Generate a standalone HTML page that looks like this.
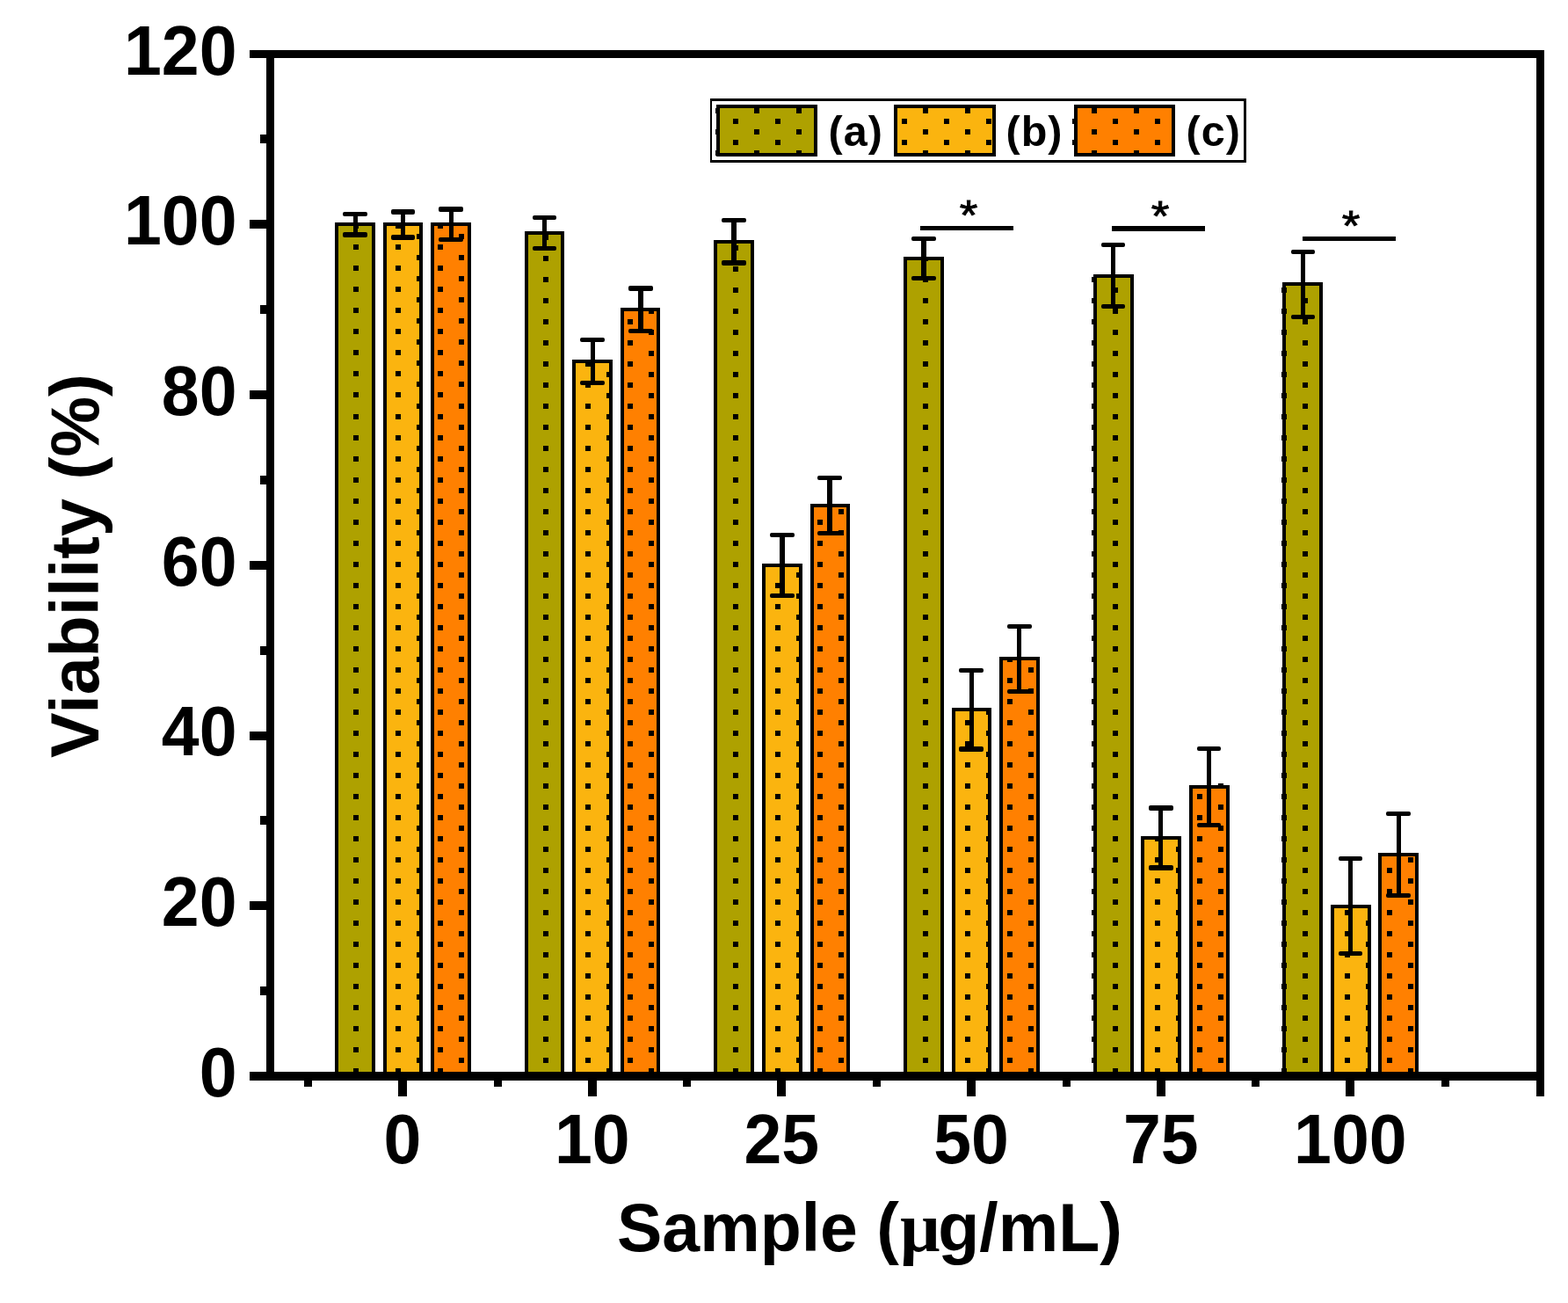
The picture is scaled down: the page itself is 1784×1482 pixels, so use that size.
<!DOCTYPE html>
<html lang="en"><head><meta charset="utf-8"><title>Viability (%) vs Sample (µg/mL)</title>
<style>html,body{margin:0;padding:0;background:#fff}body{width:1784px;height:1482px;overflow:hidden}svg{display:block}text{font-family:"Liberation Sans",sans-serif;font-weight:bold;fill:#000}.r{font-weight:normal}</style></head><body>
<svg width="1784" height="1482" viewBox="0 0 1784 1482">
<rect width="1784" height="1482" fill="#fff"/>
<g shape-rendering="crispEdges">
<rect x="381" y="253" width="46" height="968" fill="#000"/>
<rect x="385" y="257" width="38" height="964" fill="#aea100"/>
<rect x="436" y="253" width="45" height="968" fill="#000"/>
<rect x="440" y="257" width="37" height="964" fill="#fbb40f"/>
<rect x="490" y="253" width="46" height="968" fill="#000"/>
<rect x="494" y="257" width="38" height="964" fill="#ff8000"/>
<rect x="597" y="263" width="45" height="958" fill="#000"/>
<rect x="601" y="267" width="37" height="954" fill="#aea100"/>
<rect x="651" y="409" width="46" height="812" fill="#000"/>
<rect x="655" y="413" width="38" height="808" fill="#fbb40f"/>
<rect x="706" y="350" width="45" height="871" fill="#000"/>
<rect x="710" y="354" width="37" height="867" fill="#ff8000"/>
<rect x="812" y="273" width="46" height="948" fill="#000"/>
<rect x="816" y="277" width="38" height="944" fill="#aea100"/>
<rect x="867" y="641" width="46" height="580" fill="#000"/>
<rect x="871" y="645" width="38" height="576" fill="#fbb40f"/>
<rect x="922" y="573" width="45" height="648" fill="#000"/>
<rect x="926" y="577" width="37" height="644" fill="#ff8000"/>
<rect x="1028" y="292" width="46" height="929" fill="#000"/>
<rect x="1032" y="296" width="38" height="925" fill="#aea100"/>
<rect x="1083" y="805" width="45" height="416" fill="#000"/>
<rect x="1087" y="809" width="37" height="412" fill="#fbb40f"/>
<rect x="1137" y="747" width="46" height="474" fill="#000"/>
<rect x="1141" y="751" width="38" height="470" fill="#ff8000"/>
<rect x="1244" y="312" width="46" height="909" fill="#000"/>
<rect x="1248" y="316" width="38" height="905" fill="#aea100"/>
<rect x="1298" y="951" width="46" height="270" fill="#000"/>
<rect x="1302" y="955" width="38" height="266" fill="#fbb40f"/>
<rect x="1353" y="893" width="46" height="328" fill="#000"/>
<rect x="1357" y="897" width="38" height="324" fill="#ff8000"/>
<rect x="1459" y="321" width="46" height="900" fill="#000"/>
<rect x="1463" y="325" width="38" height="896" fill="#aea100"/>
<rect x="1514" y="1029" width="46" height="192" fill="#000"/>
<rect x="1518" y="1033" width="38" height="188" fill="#fbb40f"/>
<rect x="1568" y="970" width="46" height="251" fill="#000"/>
<rect x="1572" y="974" width="38" height="247" fill="#ff8000"/>
<path fill="#000" d="M402 254h6v6h-6zM402 278h6v6h-6zM402 302h6v6h-6zM402 326h6v6h-6zM402 350h6v6h-6zM402 374h6v6h-6zM402 398h6v6h-6zM402 422h6v6h-6zM402 446h6v6h-6zM402 471h6v6h-6zM402 495h6v6h-6zM402 519h6v6h-6zM402 543h6v6h-6zM402 567h6v6h-6zM402 591h6v6h-6zM402 615h6v6h-6zM402 639h6v6h-6zM402 663h6v6h-6zM402 687h6v6h-6zM402 711h6v6h-6zM402 735h6v6h-6zM402 759h6v6h-6zM402 783h6v6h-6zM402 807h6v6h-6zM402 831h6v6h-6zM402 855h6v6h-6zM402 879h6v6h-6zM402 903h6v6h-6zM402 927h6v6h-6zM402 951h6v6h-6zM402 975h6v6h-6zM402 999h6v6h-6zM402 1023h6v6h-6zM402 1047h6v6h-6zM402 1071h6v6h-6zM402 1095h6v6h-6zM402 1119h6v6h-6zM402 1143h6v6h-6zM402 1167h6v6h-6zM402 1191h6v6h-6zM402 1215h6v4h-6zM381 266h3v6h-3zM381 290h3v6h-3zM381 314h3v6h-3zM381 338h3v6h-3zM381 362h3v6h-3zM381 386h3v6h-3zM381 410h3v6h-3zM381 434h3v6h-3zM381 459h3v6h-3zM381 483h3v6h-3zM381 507h3v6h-3zM381 531h3v6h-3zM381 555h3v6h-3zM381 579h3v6h-3zM381 603h3v6h-3zM381 627h3v6h-3zM381 651h3v6h-3zM381 675h3v6h-3zM381 699h3v6h-3zM381 723h3v6h-3zM381 747h3v6h-3zM381 771h3v6h-3zM381 795h3v6h-3zM381 819h3v6h-3zM381 843h3v6h-3zM381 867h3v6h-3zM381 891h3v6h-3zM381 915h3v6h-3zM381 939h3v6h-3zM381 963h3v6h-3zM381 987h3v6h-3zM381 1011h3v6h-3zM381 1035h3v6h-3zM381 1059h3v6h-3zM381 1083h3v6h-3zM381 1107h3v6h-3zM381 1131h3v6h-3zM381 1155h3v6h-3zM381 1179h3v6h-3zM381 1203h3v6h-3zM426 266h1v6h-1zM426 290h1v6h-1zM426 314h1v6h-1zM426 338h1v6h-1zM426 362h1v6h-1zM426 386h1v6h-1zM426 410h1v6h-1zM426 434h1v6h-1zM426 459h1v6h-1zM426 483h1v6h-1zM426 507h1v6h-1zM426 531h1v6h-1zM426 555h1v6h-1zM426 579h1v6h-1zM426 603h1v6h-1zM426 627h1v6h-1zM426 651h1v6h-1zM426 675h1v6h-1zM426 699h1v6h-1zM426 723h1v6h-1zM426 747h1v6h-1zM426 771h1v6h-1zM426 795h1v6h-1zM426 819h1v6h-1zM426 843h1v6h-1zM426 867h1v6h-1zM426 891h1v6h-1zM426 915h1v6h-1zM426 939h1v6h-1zM426 963h1v6h-1zM426 987h1v6h-1zM426 1011h1v6h-1zM426 1035h1v6h-1zM426 1059h1v6h-1zM426 1083h1v6h-1zM426 1107h1v6h-1zM426 1131h1v6h-1zM426 1155h1v6h-1zM426 1179h1v6h-1zM426 1203h1v6h-1zM450 254h6v6h-6zM450 278h6v6h-6zM450 302h6v6h-6zM450 326h6v6h-6zM450 350h6v6h-6zM450 374h6v6h-6zM450 398h6v6h-6zM450 422h6v6h-6zM450 446h6v6h-6zM450 471h6v6h-6zM450 495h6v6h-6zM450 519h6v6h-6zM450 543h6v6h-6zM450 567h6v6h-6zM450 591h6v6h-6zM450 615h6v6h-6zM450 639h6v6h-6zM450 663h6v6h-6zM450 687h6v6h-6zM450 711h6v6h-6zM450 735h6v6h-6zM450 759h6v6h-6zM450 783h6v6h-6zM450 807h6v6h-6zM450 831h6v6h-6zM450 855h6v6h-6zM450 879h6v6h-6zM450 903h6v6h-6zM450 927h6v6h-6zM450 951h6v6h-6zM450 975h6v6h-6zM450 999h6v6h-6zM450 1023h6v6h-6zM450 1047h6v6h-6zM450 1071h6v6h-6zM450 1095h6v6h-6zM450 1119h6v6h-6zM450 1143h6v6h-6zM450 1167h6v6h-6zM450 1191h6v6h-6zM450 1215h6v4h-6zM474 266h6v6h-6zM474 290h6v6h-6zM474 314h6v6h-6zM474 338h6v6h-6zM474 362h6v6h-6zM474 386h6v6h-6zM474 410h6v6h-6zM474 434h6v6h-6zM474 459h6v6h-6zM474 483h6v6h-6zM474 507h6v6h-6zM474 531h6v6h-6zM474 555h6v6h-6zM474 579h6v6h-6zM474 603h6v6h-6zM474 627h6v6h-6zM474 651h6v6h-6zM474 675h6v6h-6zM474 699h6v6h-6zM474 723h6v6h-6zM474 747h6v6h-6zM474 771h6v6h-6zM474 795h6v6h-6zM474 819h6v6h-6zM474 843h6v6h-6zM474 867h6v6h-6zM474 891h6v6h-6zM474 915h6v6h-6zM474 939h6v6h-6zM474 963h6v6h-6zM474 987h6v6h-6zM474 1011h6v6h-6zM474 1035h6v6h-6zM474 1059h6v6h-6zM474 1083h6v6h-6zM474 1107h6v6h-6zM474 1131h6v6h-6zM474 1155h6v6h-6zM474 1179h6v6h-6zM474 1203h6v6h-6zM498 254h6v6h-6zM498 278h6v6h-6zM498 302h6v6h-6zM498 326h6v6h-6zM498 350h6v6h-6zM498 374h6v6h-6zM498 398h6v6h-6zM498 422h6v6h-6zM498 446h6v6h-6zM498 471h6v6h-6zM498 495h6v6h-6zM498 519h6v6h-6zM498 543h6v6h-6zM498 567h6v6h-6zM498 591h6v6h-6zM498 615h6v6h-6zM498 639h6v6h-6zM498 663h6v6h-6zM498 687h6v6h-6zM498 711h6v6h-6zM498 735h6v6h-6zM498 759h6v6h-6zM498 783h6v6h-6zM498 807h6v6h-6zM498 831h6v6h-6zM498 855h6v6h-6zM498 879h6v6h-6zM498 903h6v6h-6zM498 927h6v6h-6zM498 951h6v6h-6zM498 975h6v6h-6zM498 999h6v6h-6zM498 1023h6v6h-6zM498 1047h6v6h-6zM498 1071h6v6h-6zM498 1095h6v6h-6zM498 1119h6v6h-6zM498 1143h6v6h-6zM498 1167h6v6h-6zM498 1191h6v6h-6zM498 1215h6v4h-6zM522 266h6v6h-6zM522 290h6v6h-6zM522 314h6v6h-6zM522 338h6v6h-6zM522 362h6v6h-6zM522 386h6v6h-6zM522 410h6v6h-6zM522 434h6v6h-6zM522 459h6v6h-6zM522 483h6v6h-6zM522 507h6v6h-6zM522 531h6v6h-6zM522 555h6v6h-6zM522 579h6v6h-6zM522 603h6v6h-6zM522 627h6v6h-6zM522 651h6v6h-6zM522 675h6v6h-6zM522 699h6v6h-6zM522 723h6v6h-6zM522 747h6v6h-6zM522 771h6v6h-6zM522 795h6v6h-6zM522 819h6v6h-6zM522 843h6v6h-6zM522 867h6v6h-6zM522 891h6v6h-6zM522 915h6v6h-6zM522 939h6v6h-6zM522 963h6v6h-6zM522 987h6v6h-6zM522 1011h6v6h-6zM522 1035h6v6h-6zM522 1059h6v6h-6zM522 1083h6v6h-6zM522 1107h6v6h-6zM522 1131h6v6h-6zM522 1155h6v6h-6zM522 1179h6v6h-6zM522 1203h6v6h-6zM597 279h3v6h-3zM597 303h3v6h-3zM597 327h3v6h-3zM597 351h3v6h-3zM597 375h3v6h-3zM597 399h3v6h-3zM597 423h3v6h-3zM597 447h3v6h-3zM597 471h3v6h-3zM597 495h3v6h-3zM597 519h3v6h-3zM597 543h3v6h-3zM597 567h3v6h-3zM597 591h3v6h-3zM597 615h3v6h-3zM597 639h3v6h-3zM597 663h3v6h-3zM597 687h3v6h-3zM597 711h3v6h-3zM597 735h3v6h-3zM597 759h3v6h-3zM597 783h3v6h-3zM597 807h3v6h-3zM597 831h3v6h-3zM597 855h3v6h-3zM597 879h3v6h-3zM597 903h3v6h-3zM597 927h3v6h-3zM597 951h3v6h-3zM597 975h3v6h-3zM597 999h3v6h-3zM597 1023h3v6h-3zM597 1047h3v6h-3zM597 1071h3v6h-3zM597 1095h3v6h-3zM597 1119h3v6h-3zM597 1143h3v6h-3zM597 1167h3v6h-3zM597 1191h3v6h-3zM597 1215h3v4h-3zM618 267h6v6h-6zM618 291h6v6h-6zM618 315h6v6h-6zM618 339h6v6h-6zM618 363h6v6h-6zM618 387h6v6h-6zM618 411h6v6h-6zM618 435h6v6h-6zM618 459h6v6h-6zM618 483h6v6h-6zM618 507h6v6h-6zM618 531h6v6h-6zM618 555h6v6h-6zM618 579h6v6h-6zM618 603h6v6h-6zM618 627h6v6h-6zM618 651h6v6h-6zM618 675h6v6h-6zM618 699h6v6h-6zM618 723h6v6h-6zM618 747h6v6h-6zM618 771h6v6h-6zM618 795h6v6h-6zM618 819h6v6h-6zM618 843h6v6h-6zM618 867h6v6h-6zM618 891h6v6h-6zM618 915h6v6h-6zM618 939h6v6h-6zM618 963h6v6h-6zM618 987h6v6h-6zM618 1011h6v6h-6zM618 1035h6v6h-6zM618 1059h6v6h-6zM618 1083h6v6h-6zM618 1107h6v6h-6zM618 1131h6v6h-6zM618 1155h6v6h-6zM618 1179h6v6h-6zM618 1203h6v6h-6zM690 423h6v6h-6zM690 447h6v6h-6zM690 471h6v6h-6zM690 495h6v6h-6zM690 519h6v6h-6zM690 543h6v6h-6zM690 567h6v6h-6zM690 591h6v6h-6zM690 615h6v6h-6zM690 639h6v6h-6zM690 663h6v6h-6zM690 687h6v6h-6zM690 711h6v6h-6zM690 735h6v6h-6zM690 759h6v6h-6zM690 783h6v6h-6zM690 807h6v6h-6zM690 831h6v6h-6zM690 855h6v6h-6zM690 879h6v6h-6zM690 903h6v6h-6zM690 927h6v6h-6zM690 951h6v6h-6zM690 975h6v6h-6zM690 999h6v6h-6zM690 1023h6v6h-6zM690 1047h6v6h-6zM690 1071h6v6h-6zM690 1095h6v6h-6zM690 1119h6v6h-6zM690 1143h6v6h-6zM690 1167h6v6h-6zM690 1191h6v6h-6zM690 1215h6v4h-6zM666 411h6v6h-6zM666 435h6v6h-6zM666 459h6v6h-6zM666 483h6v6h-6zM666 507h6v6h-6zM666 531h6v6h-6zM666 555h6v6h-6zM666 579h6v6h-6zM666 603h6v6h-6zM666 627h6v6h-6zM666 651h6v6h-6zM666 675h6v6h-6zM666 699h6v6h-6zM666 723h6v6h-6zM666 747h6v6h-6zM666 771h6v6h-6zM666 795h6v6h-6zM666 819h6v6h-6zM666 843h6v6h-6zM666 867h6v6h-6zM666 891h6v6h-6zM666 915h6v6h-6zM666 939h6v6h-6zM666 963h6v6h-6zM666 987h6v6h-6zM666 1011h6v6h-6zM666 1035h6v6h-6zM666 1059h6v6h-6zM666 1083h6v6h-6zM666 1107h6v6h-6zM666 1131h6v6h-6zM666 1155h6v6h-6zM666 1179h6v6h-6zM666 1203h6v6h-6zM738 351h6v6h-6zM738 375h6v6h-6zM738 399h6v6h-6zM738 423h6v6h-6zM738 447h6v6h-6zM738 471h6v6h-6zM738 495h6v6h-6zM738 519h6v6h-6zM738 543h6v6h-6zM738 567h6v6h-6zM738 591h6v6h-6zM738 615h6v6h-6zM738 639h6v6h-6zM738 663h6v6h-6zM738 687h6v6h-6zM738 711h6v6h-6zM738 735h6v6h-6zM738 759h6v6h-6zM738 783h6v6h-6zM738 807h6v6h-6zM738 831h6v6h-6zM738 855h6v6h-6zM738 879h6v6h-6zM738 903h6v6h-6zM738 927h6v6h-6zM738 951h6v6h-6zM738 975h6v6h-6zM738 999h6v6h-6zM738 1023h6v6h-6zM738 1047h6v6h-6zM738 1071h6v6h-6zM738 1095h6v6h-6zM738 1119h6v6h-6zM738 1143h6v6h-6zM738 1167h6v6h-6zM738 1191h6v6h-6zM738 1215h6v4h-6zM714 363h6v6h-6zM714 387h6v6h-6zM714 411h6v6h-6zM714 435h6v6h-6zM714 459h6v6h-6zM714 483h6v6h-6zM714 507h6v6h-6zM714 531h6v6h-6zM714 555h6v6h-6zM714 579h6v6h-6zM714 603h6v6h-6zM714 627h6v6h-6zM714 651h6v6h-6zM714 675h6v6h-6zM714 699h6v6h-6zM714 723h6v6h-6zM714 747h6v6h-6zM714 771h6v6h-6zM714 795h6v6h-6zM714 819h6v6h-6zM714 843h6v6h-6zM714 867h6v6h-6zM714 891h6v6h-6zM714 915h6v6h-6zM714 939h6v6h-6zM714 963h6v6h-6zM714 987h6v6h-6zM714 1011h6v6h-6zM714 1035h6v6h-6zM714 1059h6v6h-6zM714 1083h6v6h-6zM714 1107h6v6h-6zM714 1131h6v6h-6zM714 1155h6v6h-6zM714 1179h6v6h-6zM714 1203h6v6h-6zM834 279h6v6h-6zM834 303h6v6h-6zM834 327h6v6h-6zM834 351h6v6h-6zM834 375h6v6h-6zM834 399h6v6h-6zM834 423h6v6h-6zM834 447h6v6h-6zM834 471h6v6h-6zM834 495h6v6h-6zM834 519h6v6h-6zM834 543h6v6h-6zM834 567h6v6h-6zM834 591h6v6h-6zM834 615h6v6h-6zM834 639h6v6h-6zM834 663h6v6h-6zM834 687h6v6h-6zM834 711h6v6h-6zM834 735h6v6h-6zM834 759h6v6h-6zM834 783h6v6h-6zM834 807h6v6h-6zM834 831h6v6h-6zM834 855h6v6h-6zM834 879h6v6h-6zM834 903h6v6h-6zM834 927h6v6h-6zM834 951h6v6h-6zM834 975h6v6h-6zM834 999h6v6h-6zM834 1023h6v6h-6zM834 1047h6v6h-6zM834 1071h6v6h-6zM834 1095h6v6h-6zM834 1119h6v6h-6zM834 1143h6v6h-6zM834 1167h6v6h-6zM834 1191h6v6h-6zM834 1215h6v4h-6zM812 291h4v6h-4zM812 315h4v6h-4zM812 339h4v6h-4zM812 363h4v6h-4zM812 387h4v6h-4zM812 411h4v6h-4zM812 435h4v6h-4zM812 459h4v6h-4zM812 483h4v6h-4zM812 507h4v6h-4zM812 531h4v6h-4zM812 555h4v6h-4zM812 579h4v6h-4zM812 603h4v6h-4zM812 627h4v6h-4zM812 651h4v6h-4zM812 675h4v6h-4zM812 699h4v6h-4zM812 723h4v6h-4zM812 747h4v6h-4zM812 771h4v6h-4zM812 795h4v6h-4zM812 819h4v6h-4zM812 843h4v6h-4zM812 867h4v6h-4zM812 891h4v6h-4zM812 915h4v6h-4zM812 939h4v6h-4zM812 963h4v6h-4zM812 987h4v6h-4zM812 1011h4v6h-4zM812 1035h4v6h-4zM812 1059h4v6h-4zM812 1083h4v6h-4zM812 1107h4v6h-4zM812 1131h4v6h-4zM812 1155h4v6h-4zM812 1179h4v6h-4zM812 1203h4v6h-4zM882 641h6v4h-6zM882 663h6v6h-6zM882 687h6v6h-6zM882 711h6v6h-6zM882 735h6v6h-6zM882 759h6v6h-6zM882 783h6v6h-6zM882 807h6v6h-6zM882 831h6v6h-6zM882 855h6v6h-6zM882 879h6v6h-6zM882 903h6v6h-6zM882 927h6v6h-6zM882 951h6v6h-6zM882 975h6v6h-6zM882 999h6v6h-6zM882 1023h6v6h-6zM882 1047h6v6h-6zM882 1071h6v6h-6zM882 1095h6v6h-6zM882 1119h6v6h-6zM882 1143h6v6h-6zM882 1167h6v6h-6zM882 1191h6v6h-6zM882 1215h6v4h-6zM906 651h6v6h-6zM906 675h6v6h-6zM906 699h6v6h-6zM906 723h6v6h-6zM906 747h6v6h-6zM906 771h6v6h-6zM906 795h6v6h-6zM906 819h6v6h-6zM906 843h6v6h-6zM906 867h6v6h-6zM906 891h6v6h-6zM906 915h6v6h-6zM906 939h6v6h-6zM906 963h6v6h-6zM906 987h6v6h-6zM906 1011h6v6h-6zM906 1035h6v6h-6zM906 1059h6v6h-6zM906 1083h6v6h-6zM906 1107h6v6h-6zM906 1131h6v6h-6zM906 1155h6v6h-6zM906 1179h6v6h-6zM906 1203h6v6h-6zM930 591h6v6h-6zM930 615h6v6h-6zM930 639h6v6h-6zM930 663h6v6h-6zM930 687h6v6h-6zM930 711h6v6h-6zM930 735h6v6h-6zM930 759h6v6h-6zM930 783h6v6h-6zM930 807h6v6h-6zM930 831h6v6h-6zM930 855h6v6h-6zM930 879h6v6h-6zM930 903h6v6h-6zM930 927h6v6h-6zM930 951h6v6h-6zM930 975h6v6h-6zM930 999h6v6h-6zM930 1023h6v6h-6zM930 1047h6v6h-6zM930 1071h6v6h-6zM930 1095h6v6h-6zM930 1119h6v6h-6zM930 1143h6v6h-6zM930 1167h6v6h-6zM930 1191h6v6h-6zM930 1215h6v4h-6zM954 579h6v6h-6zM954 603h6v6h-6zM954 627h6v6h-6zM954 651h6v6h-6zM954 675h6v6h-6zM954 699h6v6h-6zM954 723h6v6h-6zM954 747h6v6h-6zM954 771h6v6h-6zM954 795h6v6h-6zM954 819h6v6h-6zM954 843h6v6h-6zM954 867h6v6h-6zM954 891h6v6h-6zM954 915h6v6h-6zM954 939h6v6h-6zM954 963h6v6h-6zM954 987h6v6h-6zM954 1011h6v6h-6zM954 1035h6v6h-6zM954 1059h6v6h-6zM954 1083h6v6h-6zM954 1107h6v6h-6zM954 1131h6v6h-6zM954 1155h6v6h-6zM954 1179h6v6h-6zM954 1203h6v6h-6zM1028 303h4v6h-4zM1028 327h4v6h-4zM1028 351h4v6h-4zM1028 375h4v6h-4zM1028 399h4v6h-4zM1028 423h4v6h-4zM1028 447h4v6h-4zM1028 471h4v6h-4zM1028 495h4v6h-4zM1028 519h4v6h-4zM1028 543h4v6h-4zM1028 567h4v6h-4zM1028 591h4v6h-4zM1028 615h4v6h-4zM1028 639h4v6h-4zM1028 663h4v6h-4zM1028 687h4v6h-4zM1028 711h4v6h-4zM1028 735h4v6h-4zM1028 759h4v6h-4zM1028 783h4v6h-4zM1028 807h4v6h-4zM1028 831h4v6h-4zM1028 855h4v6h-4zM1028 879h4v6h-4zM1028 903h4v6h-4zM1028 927h4v6h-4zM1028 951h4v6h-4zM1028 975h4v6h-4zM1028 999h4v6h-4zM1028 1023h4v6h-4zM1028 1047h4v6h-4zM1028 1071h4v6h-4zM1028 1095h4v6h-4zM1028 1119h4v6h-4zM1028 1143h4v6h-4zM1028 1167h4v6h-4zM1028 1191h4v6h-4zM1028 1215h4v4h-4zM1050 292h6v5h-6zM1050 315h6v6h-6zM1050 339h6v6h-6zM1050 363h6v6h-6zM1050 387h6v6h-6zM1050 411h6v6h-6zM1050 435h6v6h-6zM1050 459h6v6h-6zM1050 483h6v6h-6zM1050 507h6v6h-6zM1050 531h6v6h-6zM1050 555h6v6h-6zM1050 579h6v6h-6zM1050 603h6v6h-6zM1050 627h6v6h-6zM1050 651h6v6h-6zM1050 675h6v6h-6zM1050 699h6v6h-6zM1050 723h6v6h-6zM1050 747h6v6h-6zM1050 771h6v6h-6zM1050 795h6v6h-6zM1050 819h6v6h-6zM1050 843h6v6h-6zM1050 867h6v6h-6zM1050 891h6v6h-6zM1050 915h6v6h-6zM1050 939h6v6h-6zM1050 963h6v6h-6zM1050 987h6v6h-6zM1050 1011h6v6h-6zM1050 1035h6v6h-6zM1050 1059h6v6h-6zM1050 1083h6v6h-6zM1050 1107h6v6h-6zM1050 1131h6v6h-6zM1050 1155h6v6h-6zM1050 1179h6v6h-6zM1050 1203h6v6h-6zM1122 807h6v6h-6zM1122 831h6v6h-6zM1122 855h6v6h-6zM1122 879h6v6h-6zM1122 903h6v6h-6zM1122 927h6v6h-6zM1122 951h6v6h-6zM1122 975h6v6h-6zM1122 999h6v6h-6zM1122 1023h6v6h-6zM1122 1047h6v6h-6zM1122 1071h6v6h-6zM1122 1095h6v6h-6zM1122 1119h6v6h-6zM1122 1143h6v6h-6zM1122 1167h6v6h-6zM1122 1191h6v6h-6zM1122 1215h6v4h-6zM1098 819h6v6h-6zM1098 843h6v6h-6zM1098 867h6v6h-6zM1098 891h6v6h-6zM1098 915h6v6h-6zM1098 939h6v6h-6zM1098 963h6v6h-6zM1098 987h6v6h-6zM1098 1011h6v6h-6zM1098 1035h6v6h-6zM1098 1059h6v6h-6zM1098 1083h6v6h-6zM1098 1107h6v6h-6zM1098 1131h6v6h-6zM1098 1155h6v6h-6zM1098 1179h6v6h-6zM1098 1203h6v6h-6zM1170 759h6v6h-6zM1170 783h6v6h-6zM1170 807h6v6h-6zM1170 831h6v6h-6zM1170 855h6v6h-6zM1170 879h6v6h-6zM1170 903h6v6h-6zM1170 927h6v6h-6zM1170 951h6v6h-6zM1170 975h6v6h-6zM1170 999h6v6h-6zM1170 1023h6v6h-6zM1170 1047h6v6h-6zM1170 1071h6v6h-6zM1170 1095h6v6h-6zM1170 1119h6v6h-6zM1170 1143h6v6h-6zM1170 1167h6v6h-6zM1170 1191h6v6h-6zM1170 1215h6v4h-6zM1146 747h6v6h-6zM1146 771h6v6h-6zM1146 795h6v6h-6zM1146 819h6v6h-6zM1146 843h6v6h-6zM1146 867h6v6h-6zM1146 891h6v6h-6zM1146 915h6v6h-6zM1146 939h6v6h-6zM1146 963h6v6h-6zM1146 987h6v6h-6zM1146 1011h6v6h-6zM1146 1035h6v6h-6zM1146 1059h6v6h-6zM1146 1083h6v6h-6zM1146 1107h6v6h-6zM1146 1131h6v6h-6zM1146 1155h6v6h-6zM1146 1179h6v6h-6zM1146 1203h6v6h-6zM1266 327h6v6h-6zM1266 351h6v6h-6zM1266 375h6v6h-6zM1266 399h6v6h-6zM1266 423h6v6h-6zM1266 447h6v6h-6zM1266 471h6v6h-6zM1266 495h6v6h-6zM1266 519h6v6h-6zM1266 543h6v6h-6zM1266 567h6v6h-6zM1266 591h6v6h-6zM1266 615h6v6h-6zM1266 639h6v6h-6zM1266 663h6v6h-6zM1266 687h6v6h-6zM1266 711h6v6h-6zM1266 735h6v6h-6zM1266 759h6v6h-6zM1266 783h6v6h-6zM1266 807h6v6h-6zM1266 831h6v6h-6zM1266 855h6v6h-6zM1266 879h6v6h-6zM1266 903h6v6h-6zM1266 927h6v6h-6zM1266 951h6v6h-6zM1266 975h6v6h-6zM1266 999h6v6h-6zM1266 1023h6v6h-6zM1266 1047h6v6h-6zM1266 1071h6v6h-6zM1266 1095h6v6h-6zM1266 1119h6v6h-6zM1266 1143h6v6h-6zM1266 1167h6v6h-6zM1266 1191h6v6h-6zM1266 1215h6v4h-6zM1242 315h6v6h-6zM1242 339h6v6h-6zM1242 363h6v6h-6zM1242 387h6v6h-6zM1242 411h6v6h-6zM1242 435h6v6h-6zM1242 459h6v6h-6zM1242 483h6v6h-6zM1242 507h6v6h-6zM1242 531h6v6h-6zM1242 555h6v6h-6zM1242 579h6v6h-6zM1242 603h6v6h-6zM1242 627h6v6h-6zM1242 651h6v6h-6zM1242 675h6v6h-6zM1242 699h6v6h-6zM1242 723h6v6h-6zM1242 747h6v6h-6zM1242 771h6v6h-6zM1242 795h6v6h-6zM1242 819h6v6h-6zM1242 843h6v6h-6zM1242 867h6v6h-6zM1242 891h6v6h-6zM1242 915h6v6h-6zM1242 939h6v6h-6zM1242 963h6v6h-6zM1242 987h6v6h-6zM1242 1011h6v6h-6zM1242 1035h6v6h-6zM1242 1059h6v6h-6zM1242 1083h6v6h-6zM1242 1107h6v6h-6zM1242 1131h6v6h-6zM1242 1155h6v6h-6zM1242 1179h6v6h-6zM1242 1203h6v6h-6zM1314 951h6v6h-6zM1314 975h6v6h-6zM1314 999h6v6h-6zM1314 1023h6v6h-6zM1314 1047h6v6h-6zM1314 1071h6v6h-6zM1314 1095h6v6h-6zM1314 1119h6v6h-6zM1314 1143h6v6h-6zM1314 1167h6v6h-6zM1314 1191h6v6h-6zM1314 1215h6v4h-6zM1338 963h6v6h-6zM1338 987h6v6h-6zM1338 1011h6v6h-6zM1338 1035h6v6h-6zM1338 1059h6v6h-6zM1338 1083h6v6h-6zM1338 1107h6v6h-6zM1338 1131h6v6h-6zM1338 1155h6v6h-6zM1338 1179h6v6h-6zM1338 1203h6v6h-6zM1362 903h6v6h-6zM1362 927h6v6h-6zM1362 951h6v6h-6zM1362 975h6v6h-6zM1362 999h6v6h-6zM1362 1023h6v6h-6zM1362 1047h6v6h-6zM1362 1071h6v6h-6zM1362 1095h6v6h-6zM1362 1119h6v6h-6zM1362 1143h6v6h-6zM1362 1167h6v6h-6zM1362 1191h6v6h-6zM1362 1215h6v4h-6zM1386 891h6v6h-6zM1386 915h6v6h-6zM1386 939h6v6h-6zM1386 963h6v6h-6zM1386 987h6v6h-6zM1386 1011h6v6h-6zM1386 1035h6v6h-6zM1386 1059h6v6h-6zM1386 1083h6v6h-6zM1386 1107h6v6h-6zM1386 1131h6v6h-6zM1386 1155h6v6h-6zM1386 1179h6v6h-6zM1386 1203h6v6h-6zM1458 327h6v6h-6zM1458 351h6v6h-6zM1458 375h6v6h-6zM1458 399h6v6h-6zM1458 423h6v6h-6zM1458 447h6v6h-6zM1458 471h6v6h-6zM1458 495h6v6h-6zM1458 519h6v6h-6zM1458 543h6v6h-6zM1458 567h6v6h-6zM1458 591h6v6h-6zM1458 615h6v6h-6zM1458 639h6v6h-6zM1458 663h6v6h-6zM1458 687h6v6h-6zM1458 711h6v6h-6zM1458 735h6v6h-6zM1458 759h6v6h-6zM1458 783h6v6h-6zM1458 807h6v6h-6zM1458 831h6v6h-6zM1458 855h6v6h-6zM1458 879h6v6h-6zM1458 903h6v6h-6zM1458 927h6v6h-6zM1458 951h6v6h-6zM1458 975h6v6h-6zM1458 999h6v6h-6zM1458 1023h6v6h-6zM1458 1047h6v6h-6zM1458 1071h6v6h-6zM1458 1095h6v6h-6zM1458 1119h6v6h-6zM1458 1143h6v6h-6zM1458 1167h6v6h-6zM1458 1191h6v6h-6zM1458 1215h6v4h-6zM1482 339h6v6h-6zM1482 363h6v6h-6zM1482 387h6v6h-6zM1482 411h6v6h-6zM1482 435h6v6h-6zM1482 459h6v6h-6zM1482 483h6v6h-6zM1482 507h6v6h-6zM1482 531h6v6h-6zM1482 555h6v6h-6zM1482 579h6v6h-6zM1482 603h6v6h-6zM1482 627h6v6h-6zM1482 651h6v6h-6zM1482 675h6v6h-6zM1482 699h6v6h-6zM1482 723h6v6h-6zM1482 747h6v6h-6zM1482 771h6v6h-6zM1482 795h6v6h-6zM1482 819h6v6h-6zM1482 843h6v6h-6zM1482 867h6v6h-6zM1482 891h6v6h-6zM1482 915h6v6h-6zM1482 939h6v6h-6zM1482 963h6v6h-6zM1482 987h6v6h-6zM1482 1011h6v6h-6zM1482 1035h6v6h-6zM1482 1059h6v6h-6zM1482 1083h6v6h-6zM1482 1107h6v6h-6zM1482 1131h6v6h-6zM1482 1155h6v6h-6zM1482 1179h6v6h-6zM1482 1203h6v6h-6zM1554 1047h6v6h-6zM1554 1071h6v6h-6zM1554 1095h6v6h-6zM1554 1119h6v6h-6zM1554 1143h6v6h-6zM1554 1167h6v6h-6zM1554 1191h6v6h-6zM1554 1215h6v4h-6zM1530 1035h6v6h-6zM1530 1059h6v6h-6zM1530 1083h6v6h-6zM1530 1107h6v6h-6zM1530 1131h6v6h-6zM1530 1155h6v6h-6zM1530 1179h6v6h-6zM1530 1203h6v6h-6zM1602 975h6v6h-6zM1602 999h6v6h-6zM1602 1023h6v6h-6zM1602 1047h6v6h-6zM1602 1071h6v6h-6zM1602 1095h6v6h-6zM1602 1119h6v6h-6zM1602 1143h6v6h-6zM1602 1167h6v6h-6zM1602 1191h6v6h-6zM1602 1215h6v4h-6zM1578 987h6v6h-6zM1578 1011h6v6h-6zM1578 1035h6v6h-6zM1578 1059h6v6h-6zM1578 1083h6v6h-6zM1578 1107h6v6h-6zM1578 1131h6v6h-6zM1578 1155h6v6h-6zM1578 1179h6v6h-6zM1578 1203h6v6h-6z"/>
</g>
<g fill="#000">
<rect x="390" y="241" width="28" height="5" rx="2"/>
<rect x="390" y="264" width="28" height="6" rx="2"/>
<rect x="402" y="242" width="5" height="27" shape-rendering="crispEdges"/>
<rect x="445" y="238" width="27" height="6" rx="2"/>
<rect x="445" y="267" width="27" height="6" rx="2"/>
<rect x="456" y="239" width="5" height="33" shape-rendering="crispEdges"/>
<rect x="499" y="235" width="28" height="6" rx="2"/>
<rect x="499" y="270" width="28" height="5" rx="2"/>
<rect x="511" y="236" width="5" height="38" shape-rendering="crispEdges"/>
<rect x="606" y="245" width="27" height="5" rx="2"/>
<rect x="606" y="280" width="27" height="5" rx="2"/>
<rect x="617" y="246" width="5" height="38" shape-rendering="crispEdges"/>
<rect x="660" y="384" width="28" height="5" rx="2"/>
<rect x="660" y="433" width="28" height="5" rx="2"/>
<rect x="672" y="385" width="5" height="52" shape-rendering="crispEdges"/>
<rect x="715" y="325" width="28" height="6" rx="2"/>
<rect x="715" y="374" width="28" height="5" rx="2"/>
<rect x="726" y="326" width="6" height="52" shape-rendering="crispEdges"/>
<rect x="821" y="248" width="28" height="5" rx="2"/>
<rect x="821" y="296" width="28" height="6" rx="2"/>
<rect x="832" y="249" width="6" height="52" shape-rendering="crispEdges"/>
<rect x="876" y="606" width="28" height="5" rx="2"/>
<rect x="876" y="675" width="28" height="5" rx="2"/>
<rect x="887" y="607" width="6" height="72" shape-rendering="crispEdges"/>
<rect x="930" y="541" width="28" height="5" rx="2"/>
<rect x="930" y="604" width="28" height="5" rx="2"/>
<rect x="941" y="542" width="6" height="66" shape-rendering="crispEdges"/>
<rect x="1037" y="269" width="28" height="5" rx="2"/>
<rect x="1037" y="314" width="28" height="5" rx="2"/>
<rect x="1048" y="270" width="6" height="48" shape-rendering="crispEdges"/>
<rect x="1091" y="760" width="28" height="5" rx="2"/>
<rect x="1091" y="849" width="28" height="6" rx="2"/>
<rect x="1103" y="761" width="5" height="93" shape-rendering="crispEdges"/>
<rect x="1146" y="710" width="28" height="5" rx="2"/>
<rect x="1146" y="784" width="28" height="5" rx="2"/>
<rect x="1157" y="711" width="5" height="77" shape-rendering="crispEdges"/>
<rect x="1253" y="276" width="27" height="5" rx="2"/>
<rect x="1253" y="346" width="27" height="5" rx="2"/>
<rect x="1264" y="277" width="5" height="73" shape-rendering="crispEdges"/>
<rect x="1307" y="916" width="28" height="6" rx="2"/>
<rect x="1307" y="984" width="28" height="6" rx="2"/>
<rect x="1318" y="917" width="5" height="72" shape-rendering="crispEdges"/>
<rect x="1362" y="849" width="27" height="5" rx="2"/>
<rect x="1362" y="936" width="27" height="5" rx="2"/>
<rect x="1373" y="850" width="5" height="90" shape-rendering="crispEdges"/>
<rect x="1469" y="284" width="27" height="5" rx="2"/>
<rect x="1469" y="358" width="27" height="5" rx="2"/>
<rect x="1480" y="285" width="5" height="77" shape-rendering="crispEdges"/>
<rect x="1523" y="974" width="27" height="5" rx="2"/>
<rect x="1523" y="1082" width="27" height="5" rx="2"/>
<rect x="1534" y="975" width="5" height="111" shape-rendering="crispEdges"/>
<rect x="1577" y="923" width="28" height="5" rx="2"/>
<rect x="1577" y="1016" width="28" height="5" rx="2"/>
<rect x="1589" y="924" width="5" height="96" shape-rendering="crispEdges"/>
</g>
<g fill="#000" shape-rendering="crispEdges">
<rect x="284" y="57" width="1473" height="9"/>
<rect x="284" y="1219" width="1473" height="10"/>
<rect x="303" y="57" width="9" height="1172"/>
<rect x="1748" y="57" width="9" height="1190"/>
<rect x="296" y="1122" width="8" height="10"/>
<rect x="284" y="1025" width="20" height="10"/>
<rect x="296" y="928" width="8" height="10"/>
<rect x="284" y="832" width="20" height="10"/>
<rect x="296" y="735" width="8" height="10"/>
<rect x="284" y="638" width="20" height="10"/>
<rect x="296" y="541" width="8" height="10"/>
<rect x="284" y="444" width="20" height="10"/>
<rect x="296" y="347" width="8" height="10"/>
<rect x="284" y="250" width="20" height="10"/>
<rect x="296" y="153" width="8" height="10"/>
<rect x="453" y="1228" width="10" height="19"/>
<rect x="669" y="1228" width="10" height="19"/>
<rect x="884" y="1228" width="10" height="19"/>
<rect x="1100" y="1228" width="10" height="19"/>
<rect x="1316" y="1228" width="10" height="19"/>
<rect x="1531" y="1228" width="10" height="19"/>
<rect x="346" y="1228" width="9" height="8"/>
<rect x="562" y="1228" width="9" height="8"/>
<rect x="777" y="1228" width="9" height="8"/>
<rect x="993" y="1228" width="9" height="8"/>
<rect x="1209" y="1228" width="9" height="8"/>
<rect x="1424" y="1228" width="9" height="8"/>
<rect x="1640" y="1228" width="9" height="8"/>
</g>
<g fill="#000" shape-rendering="crispEdges">
<rect x="1047" y="257" width="106" height="5"/>
<rect x="1265" y="257" width="106" height="6"/>
<rect x="1482" y="269" width="106" height="5"/>
</g>
<text class="r" transform="translate(1102 260.5) scale(1 0.92)" font-size="53" text-anchor="middle" stroke="#000" stroke-width="1">*</text>
<text class="r" transform="translate(1320 261.5) scale(1 0.92)" font-size="53" text-anchor="middle" stroke="#000" stroke-width="1">*</text>
<text class="r" transform="translate(1537 272.5) scale(1 0.92)" font-size="53" text-anchor="middle" stroke="#000" stroke-width="1">*</text>
<g shape-rendering="crispEdges">
<rect x="808" y="112" width="610" height="73" fill="#000"/>
<rect x="810" y="115" width="605" height="67" fill="#fff"/>
<rect x="815" y="119" width="115" height="59" fill="#000"/>
<rect x="819" y="123" width="107" height="51" fill="#aea100"/>
<rect x="1017" y="119" width="116" height="59" fill="#000"/>
<rect x="1021" y="123" width="108" height="51" fill="#fbb40f"/>
<rect x="1222" y="119" width="115" height="59" fill="#000"/>
<rect x="1226" y="123" width="107" height="51" fill="#ff8000"/>
<path fill="#000" d="M834 135h6v6h-6zM834 159h6v6h-6zM882 135h6v6h-6zM882 159h6v6h-6zM814 123h2v6h-2zM814 147h2v6h-2zM814 171h2v6h-2zM858 123h6v6h-6zM858 147h6v6h-6zM858 171h6v6h-6zM906 123h6v6h-6zM906 147h6v6h-6zM906 171h6v6h-6zM1026 135h6v6h-6zM1026 159h6v6h-6zM1074 135h6v6h-6zM1074 159h6v6h-6zM1122 135h6v6h-6zM1122 159h6v6h-6zM1050 123h6v6h-6zM1050 147h6v6h-6zM1050 171h6v6h-6zM1098 123h6v6h-6zM1098 147h6v6h-6zM1098 171h6v6h-6zM1220 135h4v6h-4zM1220 159h4v6h-4zM1266 135h6v6h-6zM1266 159h6v6h-6zM1314 135h6v6h-6zM1314 159h6v6h-6zM1242 123h6v6h-6zM1242 147h6v6h-6zM1242 171h6v6h-6zM1290 123h6v6h-6zM1290 147h6v6h-6zM1290 171h6v6h-6z"/>
</g>
<text x="942.6" y="165.5" font-size="48.5" letter-spacing="1">(a)</text>
<text x="1144.6" y="165.5" font-size="48.5" letter-spacing="1">(b)</text>
<text x="1349.6" y="165.5" font-size="48.5" letter-spacing="1">(c)</text>
<text transform="translate(269.5 1247) scale(1 1.04)" font-size="77" text-anchor="end">0</text>
<text transform="translate(269.5 1053) scale(1 1.04)" font-size="77" text-anchor="end">20</text>
<text transform="translate(269.5 859) scale(1 1.04)" font-size="77" text-anchor="end">40</text>
<text transform="translate(269.5 666) scale(1 1.04)" font-size="77" text-anchor="end">60</text>
<text transform="translate(269.5 472) scale(1 1.04)" font-size="77" text-anchor="end">80</text>
<text transform="translate(269.5 278) scale(1 1.04)" font-size="77" text-anchor="end">100</text>
<text transform="translate(269.5 85) scale(1 1.04)" font-size="77" text-anchor="end">120</text>
<text transform="translate(458.0 1323) scale(1 1.04)" font-size="77" text-anchor="middle">0</text>
<text transform="translate(673.7 1323) scale(1 1.04)" font-size="77" text-anchor="middle">10</text>
<text transform="translate(889.3 1323) scale(1 1.04)" font-size="77" text-anchor="middle">25</text>
<text transform="translate(1105.0 1323) scale(1 1.04)" font-size="77" text-anchor="middle">50</text>
<text transform="translate(1320.7 1323) scale(1 1.04)" font-size="77" text-anchor="middle">75</text>
<text transform="translate(1536.3 1323) scale(1 1.04)" font-size="77" text-anchor="middle">100</text>
<text x="702" y="1423" font-size="77">Sample (<tspan style="font-family:'Liberation Serif',serif" font-size="80" dx="0.8">µ</tspan><tspan dx="-2.5">g/mL)</tspan></text>
<text transform="translate(111.6 862) rotate(-90)" font-size="77.3">Viability (%)</text>
</svg></body></html>
